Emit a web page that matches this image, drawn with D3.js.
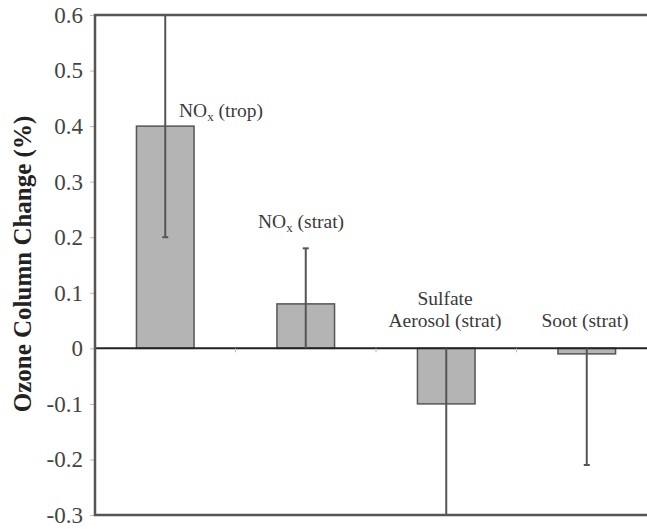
<!DOCTYPE html>
<html>
<head>
<meta charset="utf-8">
<script src="https://cdn.jsdelivr.net/npm/d3@7"></script>
<style>
  html, body { margin: 0; padding: 0; background: #fff; overflow: hidden; }
  svg { display: block; }
</style>
</head>
<body>
<svg id="chart" width="647" height="529"></svg>
<script>
// Ozone column change by aviation emission type
const categories = ["NOx (trop)", "NOx (strat)", "Sulfate Aerosol (strat)", "Soot (strat)"];
const values     = [0.40, 0.08, -0.10, -0.01];
const errLow     = [0.20, 0.00, -0.30, -0.21];
const errHigh    = [0.60, 0.18, 0.00, 0.00];
const yTicks     = [0.6, 0.5, 0.4, 0.3, 0.2, 0.1, 0, -0.1, -0.2, -0.3];
const yTickLabels = ["0.6", "0.5", "0.4", "0.3", "0.2", "0.1", "0", "-0.1", "-0.2", "-0.3"];

const serif = "Liberation Serif";
const svg = d3.select("#chart");
const plot = { left: 95, top: 15, right: 657, bottom: 515 };
// the frame runs off the right edge of the page, so it has no right side
const frameRight = 650;

const x = d3.scaleBand()
  .domain(categories)
  .range([plot.left, plot.right])
  .paddingInner(0.59)
  .paddingOuter(0.295);

const y = d3.scaleLinear().domain([-0.3, 0.6]).range([plot.bottom, plot.top]);

const ink = "#555";
const textCol = "#3a3a3a";

// y axis ticks and labels
const yAxis = d3.axisLeft(y)
  .tickValues(yTicks)
  .tickSize(5)
  .tickPadding(7)
  .tickFormat((d, i) => yTickLabels[i]);

const gy = svg.append("g").attr("transform", `translate(${plot.left},0)`).call(yAxis);
gy.select(".domain").remove();
gy.selectAll(".tick line").attr("stroke", "#bbb").attr("stroke-width", 1);
gy.selectAll(".tick text")
  .attr("fill", "#444")
  .style("font-family", serif)
  .style("font-size", "23px");

// Bars
svg.append("g").selectAll("rect")
  .data(categories)
  .join("rect")
  .attr("x", d => x(d))
  .attr("width", x.bandwidth())
  .attr("y", (d, i) => y(Math.max(0, values[i])))
  .attr("height", (d, i) => Math.abs(y(values[i]) - y(0)))
  .attr("fill", "#b4b4b4")
  .attr("stroke", ink)
  .attr("stroke-width", 1.5);

// Zero line with category separators
svg.append("line")
  .attr("x1", plot.left).attr("x2", frameRight)
  .attr("y1", y(0)).attr("y2", y(0))
  .attr("stroke", "#222").attr("stroke-width", 2);
svg.append("g").selectAll("line")
  .data(categories.slice(1))
  .join("line")
  .attr("x1", d => x(d) - x.step() * x.paddingInner() / 2)
  .attr("x2", d => x(d) - x.step() * x.paddingInner() / 2)
  .attr("y1", y(0)).attr("y2", y(0) + 4)
  .attr("stroke", "#bbb").attr("stroke-width", 1);

// Error bars
const eb = svg.append("g").attr("stroke", ink).attr("stroke-width", 2);
categories.forEach((c, i) => {
  const cx = x(c) + x.bandwidth() / 2;
  eb.append("line").attr("x1", cx).attr("x2", cx).attr("y1", y(errHigh[i])).attr("y2", y(errLow[i]));
  [errHigh[i], errLow[i]].forEach(v => {
    if (v !== 0) {
      eb.append("line").attr("x1", cx - 3).attr("x2", cx + 3).attr("y1", y(v)).attr("y2", y(v));
    }
  });
});

// Frame (left, top, bottom)
svg.append("path")
  .attr("d", `M${frameRight},${plot.top}H${plot.left}V${plot.bottom}H${frameRight}`)
  .attr("fill", "none")
  .attr("stroke", ink)
  .attr("stroke-width", 2.5);

// Category labels
function label(xPos, yPos, parts, anchor) {
  const t = svg.append("text")
    .attr("x", xPos).attr("y", yPos)
    .style("font-family", serif)
    .style("font-size", "19.5px")
    .attr("fill", textCol)
    .attr("text-anchor", anchor || "start");
  parts.forEach(p => {
    const s = t.append("tspan").text(p.t);
    if (p.sub) s.style("font-size", "13px").attr("dy", 4);
    else if (p.after) s.attr("dy", -4);
  });
  return t;
}
label(179, 117, [{t: "NO"}, {t: "x", sub: true}, {t: " (trop)", after: true}]);
label(258, 228, [{t: "NO"}, {t: "x", sub: true}, {t: " (strat)", after: true}]);
label(445, 305, [{t: "Sulfate"}], "middle");
label(445, 327, [{t: "Aerosol (strat)"}], "middle");
label(585, 327, [{t: "Soot (strat)"}], "middle");

// Y axis title
svg.append("text")
  .attr("transform", `translate(31,264) rotate(-90)`)
  .attr("text-anchor", "middle")
  .style("font-family", serif)
  .style("font-size", "25px")
  .style("font-weight", "bold")
  .attr("fill", "#222")
  .text("Ozone Column Change (%)");
</script>
</body>
</html>
